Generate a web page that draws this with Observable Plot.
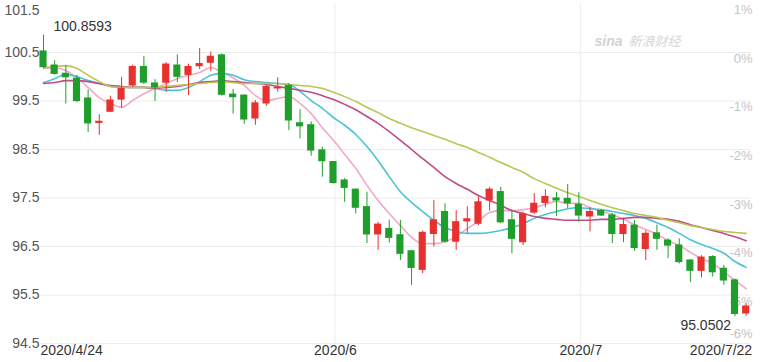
<!DOCTYPE html>
<html>
<head>
<meta charset="utf-8">
<script src="https://cdn.jsdelivr.net/npm/d3@7"></script>
<script src="https://cdn.jsdelivr.net/npm/@observablehq/plot@0.6"></script>
<style>
html, body { margin: 0; padding: 0; background: #fff; }
#chart { width: 760px; height: 362px; }
</style>
</head>
<body>
<div id="chart"></div>
<script>
// Trading days (weekdays) 2020/4/24 .. 2020/7/22
const dates = ["4/24","4/27","4/28","4/29","4/30","5/1","5/4","5/5","5/6","5/7","5/8",
  "5/11","5/12","5/13","5/14","5/15","5/18","5/19","5/20","5/21","5/22",
  "5/25","5/26","5/27","5/28","5/29","6/1","6/2","6/3","6/4","6/5",
  "6/8","6/9","6/10","6/11","6/12","6/15","6/16","6/17","6/18","6/19",
  "6/22","6/23","6/24","6/25","6/26","6/29","6/30","7/1","7/2","7/3",
  "7/6","7/7","7/8","7/9","7/10","7/13","7/14","7/15","7/16","7/17",
  "7/20","7/21","7/22"];

const open = [100.52,100.23,100.06,99.96,99.55,99.05,99.28,99.53,99.82,100.20,99.86,
  99.88,100.23,100.04,100.22,100.29,100.44,99.63,99.61,99.14,99.45,
  99.76,99.81,99.04,99.00,98.48,98.24,97.86,97.67,97.31,96.75,
  96.86,96.73,96.40,96.02,96.76,97.21,96.60,97.02,96.97,97.45,
  97.62,97.04,96.59,97.20,97.40,97.49,97.48,97.36,97.12,97.23,
  97.14,96.76,96.93,96.45,96.77,96.62,96.52,96.21,96.00,96.28,
  96.04,95.80,95.12];
const high = [100.8593,100.33,100.23,100.03,99.73,99.22,99.60,99.99,100.24,100.42,99.94,
  100.29,100.45,100.26,100.58,100.51,100.47,99.74,99.63,99.51,99.82,
  99.98,99.86,99.32,99.07,98.55,98.25,97.90,97.69,97.62,97.00,
  97.04,97.04,96.42,96.82,97.45,97.38,97.24,97.32,97.52,97.72,
  97.72,97.24,97.21,97.59,97.67,97.62,97.78,97.61,97.30,97.26,
  97.18,97.08,97.04,96.82,96.94,96.66,96.66,96.23,96.31,96.31,
  96.11,95.83,95.32];
const low = [100.17,100.03,99.44,99.47,98.85,98.79,99.26,99.35,99.78,99.84,99.49,
  99.68,99.88,99.61,100.15,100.11,99.60,99.23,99.02,99.00,99.39,
  99.68,98.89,98.72,98.36,97.93,97.79,97.41,97.17,96.56,96.42,
  96.57,96.21,95.70,95.94,96.49,96.57,96.42,96.77,96.93,97.23,
  96.97,96.35,96.52,97.16,97.30,97.12,97.28,97.00,96.80,97.12,
  96.56,96.58,96.40,96.21,96.42,96.25,96.14,95.76,95.85,95.87,
  95.70,95.0502,95.06];
const close = [100.20,100.06,99.99,99.50,99.04,99.07,99.51,99.75,100.20,99.88,99.78,
  100.25,100.00,100.20,100.26,100.41,99.63,99.58,99.12,99.45,99.79,
  99.77,99.10,98.98,98.48,98.26,97.81,97.71,97.30,96.75,96.95,
  96.68,96.35,96.06,96.78,97.04,96.60,97.00,97.06,97.41,97.67,
  97.00,96.66,97.16,97.38,97.52,97.45,97.39,97.14,97.21,97.14,
  96.76,96.94,96.47,96.76,96.66,96.52,96.18,96.00,96.27,95.97,
  95.80,95.11,95.26];

// Moving averages
const ma5 = [100.17,100.18,100.13,99.98,99.78,99.57,99.45,99.37,99.51,99.65,99.76,
  99.86,99.96,100.03,100.09,100.19,100.09,99.98,99.82,99.61,99.51,
  99.55,99.59,99.45,99.24,98.95,98.69,98.40,98.11,97.76,97.45,
  97.18,96.93,96.69,96.56,96.56,96.60,96.71,96.87,97.02,97.20,
  97.24,97.24,97.26,97.30,97.37,97.43,97.39,97.39,97.30,97.22,
  97.16,97.06,96.95,96.85,96.75,96.62,96.52,96.38,96.25,96.15,
  95.98,95.80,95.63];
const ma10 = [99.88,99.96,100.05,100.00,99.92,99.86,99.80,99.78,99.78,99.78,99.76,
  99.72,99.72,99.78,99.90,100.03,100.07,100.03,99.94,99.90,99.88,
  99.86,99.84,99.70,99.51,99.35,99.16,99.00,98.81,98.56,98.27,
  97.94,97.63,97.41,97.22,97.04,96.89,96.81,96.77,96.77,96.79,
  96.83,96.89,96.97,97.08,97.16,97.22,97.28,97.30,97.28,97.26,
  97.22,97.18,97.14,97.08,96.99,96.89,96.77,96.64,96.54,96.46,
  96.36,96.19,96.07];
const ma20 = [99.86,99.88,99.92,99.92,99.90,99.86,99.82,99.80,99.78,99.78,99.76,
  99.78,99.80,99.84,99.88,99.90,99.92,99.90,99.88,99.86,99.84,
  99.80,99.76,99.72,99.68,99.61,99.53,99.43,99.32,99.18,99.04,
  98.87,98.69,98.50,98.31,98.13,97.94,97.80,97.68,97.55,97.45,
  97.35,97.24,97.18,97.12,97.08,97.06,97.04,97.04,97.04,97.06,
  97.06,97.08,97.10,97.10,97.08,97.06,97.02,96.95,96.89,96.83,
  96.77,96.70,96.62];
const ma30 = [100.19,100.21,100.23,100.17,100.03,99.90,99.80,99.78,99.78,99.78,99.78,
  99.80,99.82,99.84,99.86,99.88,99.90,99.88,99.86,99.86,99.86,
  99.86,99.84,99.82,99.80,99.76,99.68,99.59,99.49,99.37,99.26,
  99.14,99.04,98.95,98.87,98.79,98.71,98.62,98.54,98.44,98.34,
  98.23,98.13,98.03,97.90,97.80,97.70,97.61,97.53,97.45,97.37,
  97.30,97.24,97.18,97.14,97.10,97.04,96.99,96.93,96.89,96.85,
  96.81,96.79,96.77];

const priceTicks = [101.5,100.5,99.5,98.5,97.5,96.5,95.5,94.5];
const pctTicks = [1,0,-1,-2,-3,-4,-5,-6];
const basePrice = 100.376;
const xTickLabels = ["2020/4/24","2020/6","2020/7","2020/7/22"];
const xTickIndex = [0,26,48,63];

const UP = "#e8312f", DOWN = "#1f9e2c";
const maColors = ["#f2a9c4","#4cc3d5","#c04b86","#bcc656"];

const candles = dates.map((d, i) => ({
  i, date: d, open: open[i], high: high[i], low: low[i], close: close[i],
  lo: Math.min(open[i], close[i]), hi: Math.max(open[i], close[i]),
  color: close[i] >= open[i] ? UP : DOWN
}));
const maSeries = [ma5, ma10, ma20, ma30];

const yMin = 94.5, yMax = 101.5;
const maxI = d3.maxIndex(high), minI = d3.minIndex(low);
const pctData = pctTicks.map(k => ({k, y: Math.max(basePrice * (1 + k / 100), yMin + 0.19)}));
const xt = xTickIndex.map((idx, j) => ({i: idx, label: xTickLabels[j]}));
const FONT = "'Liberation Sans', Arial, sans-serif";

const chart = Plot.plot({
  width: 760, height: 362,
  marginLeft: 40, marginRight: 10, marginTop: 3.5, marginBottom: 19,
  style: {fontFamily: FONT, background: "#fff", overflow: "visible"},
  x: {domain: [-0.27, 63.39], axis: null},
  y: {domain: [yMin, yMax], axis: null},
  marks: [
    Plot.ruleY(priceTicks.slice(1), {stroke: "#ececec", strokeWidth: 1}),
    Plot.ruleX([xTickIndex[1], xTickIndex[2]], {stroke: "#ececec", strokeWidth: 1, dx: 1.5}),
    // watermark
    Plot.text(["sina"], {frameAnchor: "top-right", dx: -128, dy: 32, textAnchor: "end", fill: "#d2d2d2", fontSize: 14, fontWeight: "bold", fontStyle: "italic", text: d => d}),
    Plot.text(["新浪财经"], {frameAnchor: "top-right", dx: -70, dy: 33, textAnchor: "end", fill: "#d6d6d6", fontSize: 13, fontStyle: "italic", text: d => d, fontFamily: "'Noto Sans CJK SC', sans-serif"}),
    // right percentage labels
    Plot.text(pctData, {y: "y", text: d => d.k + "%", frameAnchor: "right", textAnchor: "end", dx: 2, fill: "#c4c4c4", fontSize: 13}),
    // MA lines
    ...maSeries.map((arr, k) => Plot.line(arr.map((v, i) => ({i, v})), {x: "i", y: "v", stroke: maColors[k], strokeWidth: 1.6, curve: "monotone-x"})),
    // candles
    Plot.ruleX(candles, {x: "i", y1: "low", y2: "high", stroke: "color", strokeWidth: 1}),
    Plot.rect(candles, {x1: d => d.i - 0.32, x2: d => d.i + 0.32, y1: "lo", y2: "hi", fill: "color", insetTop: -0.6, insetBottom: -0.6}),
    // left price labels
    Plot.text(priceTicks.slice(1), {y: d => d, text: d => d.toFixed(1), frameAnchor: "left", textAnchor: "end", dx: -1, fill: "#555", fontSize: 14}),
    Plot.text(priceTicks.slice(0, 1), {y: d => d, text: d => d.toFixed(1), frameAnchor: "left", textAnchor: "end", dx: -1, dy: 6.5, fill: "#555", fontSize: 14}),
    // x labels
    Plot.text(xt.slice(0, 1), {x: "i", text: "label", frameAnchor: "bottom", dy: 11, dx: -3, textAnchor: "start", fill: "#333", fontSize: 14}),
    Plot.text(xt.slice(1, 3), {x: "i", text: "label", frameAnchor: "bottom", dy: 11, dx: 2, textAnchor: "middle", fill: "#333", fontSize: 14}),
    Plot.text(xt.slice(3), {x: "i", text: "label", frameAnchor: "bottom", dy: 11, dx: 6, textAnchor: "end", fill: "#333", fontSize: 14}),
    // max / min annotations
    Plot.text([maxI], {x: d => d, y: d => high[d], text: d => high[d].toFixed(4), dx: 10, dy: -9, textAnchor: "start", fill: "#333", fontSize: 14}),
    Plot.text([minI], {x: d => d, y: d => low[d], text: d => low[d].toFixed(4), dx: -4, dy: 9, textAnchor: "end", fill: "#333", fontSize: 14})
  ]
});
document.getElementById("chart").appendChild(chart);
</script>
</body>
</html>
